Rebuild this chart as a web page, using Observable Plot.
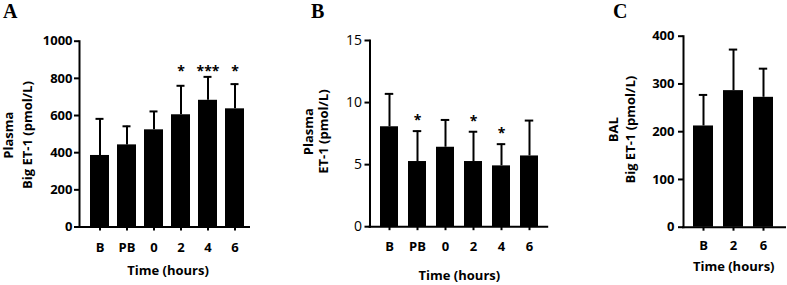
<!DOCTYPE html>
<html><head><meta charset="utf-8">
<script src="https://cdn.jsdelivr.net/npm/d3@7"></script>
<script src="https://cdn.jsdelivr.net/npm/@observablehq/plot@0.6"></script>
<style>
body{margin:0;background:#fff;}
#wrap{position:relative;width:787px;height:285px;overflow:hidden;font-family:"Open Sans",sans-serif;background:#fff;}
#wrap > svg{position:absolute;top:0;}
.letter{position:absolute;top:1px;font-family:"Liberation Serif",serif;font-weight:bold;font-size:20px;line-height:20px;color:#000;}
</style></head><body><div id="wrap"></div>
<script>
// Panel A: Plasma Big ET-1 (pmol/L)
const catsA = ["B","PB","0","2","4","6"];
const meanA = [385,442,523,604,682,636];
const upperA = [582,542,622,760,808,769];
const starsA = ["","","","*","***","*"];
const ticksA = [0,200,400,600,800,1000];
// Panel B: Plasma ET-1 (pmol/L)
const catsB = ["B","PB","0","2","4","6"];
const meanB = [8.05,5.25,6.4,5.25,4.9,5.7];
const upperB = [10.7,7.7,8.6,7.65,6.65,8.55];
const starsB = ["","*","","*","*",""];
const ticksB = [0,5,10,15];
// Panel C: BAL Big ET-1 (pmol/L)
const catsC = ["B","2","6"];
const meanC = [212,286,272];
const upperC = [277,372,332];
const starsC = ["","",""];
const ticksC = [0,100,200,300,400];

const xTitle = "Time (hours)";
const letters = ["A","B","C"];

const wrap = document.getElementById("wrap");

function panel(o) {
  const data = o.cats.map((c,i)=>({c, m:o.mean[i], u:o.upper[i], s:o.stars[i]}));
  const starred = data.filter(d=>d.s);
  const starTop = d3.max(starred, d=>d.u);
  const starData = starred.map(d=>({...d, ys: o.alignStars ? starTop : d.u}));
  const p = Plot.plot({
    width:o.width, height:285,
    marginLeft:o.mL, marginRight:o.mR, marginTop:o.mT, marginBottom:o.mB,
    style:{fontFamily:'"Open Sans",sans-serif', fontSize:"13px", color:"#000", background:"transparent", overflow:"visible"},
    x:{domain:o.cats, paddingInner:o.pi, paddingOuter:o.po, align:0.5, axis:null},
    y:{domain:[0,o.ymax], axis:null},
    marks:[
      Plot.barY(data,{x:"c", y:"m", fill:"#000"}),
      Plot.ruleX(data,{x:"c", y1:"m", y2:"u", stroke:"#000", strokeWidth:2}),
      Plot.tickY(data,{x:"c", y:"u", stroke:"#000", strokeWidth:2, inset:o.capInset}),
      Plot.text(starData,{x:"c", y:"ys", text:"s", dy:o.starDy, fontSize:14, fontWeight:"bold", lineAnchor:"middle", fill:"#000"}),
      // y axis: ticks + labels
      Plot.axisY({ticks:o.ticks, tickSize:5, strokeWidth:2, stroke:"#000", text:null, label:null}),
      Plot.text(o.ticks,{y:d=>d, text:d=>String(d), frameAnchor:"left", textAnchor:"end", dx:-(5+o.yPad), fontSize:o.yFont, fontWeight:o.yWeight, lineAnchor:"middle", fill:"#000"}),
      // x axis: ticks + labels
      Plot.axisX({tickSize:4, strokeWidth:2, stroke:"#000", text:null, label:null}),
      Plot.text(o.cats,{x:d=>d, text:d=>d, frameAnchor:"bottom", dy:o.xLabDy, fontSize:13, fontWeight:"bold", lineAnchor:"middle", fill:"#000"}),
      Plot.frame({anchor:"left", stroke:"#000", strokeWidth:2}),
      Plot.ruleY([0],{stroke:"#000", strokeWidth:2, insetLeft:-1, insetRight:o.ruleInsetRight}),
      Plot.text([o.ylab1],{text:d=>d, frameAnchor:"left", textAnchor:"middle", rotate:-90, dx:o.lab1Dx, dy:o.labDy, fontSize:13, fontWeight:"bold", lineAnchor:"middle", fill:"#000"}),
      Plot.text([o.ylab2],{text:d=>d, frameAnchor:"left", textAnchor:"middle", rotate:-90, dx:o.lab2Dx, dy:o.labDy, fontSize:13, fontWeight:"bold", lineAnchor:"middle", fill:"#000"}),
      Plot.text([xTitle],{text:d=>d, frameAnchor:"bottom", dy:o.titleDy, fontSize:13, fontWeight:"bold", lineAnchor:"middle", fill:"#000"})
    ]
  });
  p.style.left = o.left + "px";
  wrap.appendChild(p);
}

panel({left:0, width:262, mL:79, mR:6, mT:40.7, mB:58.5, pi:0.28, po:0.33,
  cats:catsA, mean:meanA, upper:upperA, stars:starsA, ticks:ticksA, ymax:1000,
  capInset:5.5, alignStars:true, starDy:-5, yPad:2, yFont:13, yWeight:"bold", xLabDy:20.5,
  ruleInsetRight:6, ylab1:"Plasma", ylab2:"Big ET-1 (pmol/L)", lab1Dx:-71, lab2Dx:-52, labDy:1, titleDy:43.5});

panel({left:270, width:280, mL:99.5, mR:1.8, mT:40, mB:58.8, pi:0.34, po:0.35,
  cats:catsB, mean:meanB, upper:upperB, stars:starsB, ticks:ticksB, ymax:15,
  capInset:4.75, alignStars:false, starDy:-10.4, yPad:3, yFont:14, yWeight:"normal", xLabDy:20.5,
  ruleInsetRight:0, ylab1:"Plasma", ylab2:"ET-1 (pmol/L)", lab1Dx:-61.5, lab2Dx:-46.5, labDy:-2, titleDy:48.8});

panel({left:600, width:187, mL:83, mR:3.6, mT:35.7, mB:58.3, pi:0.32, po:0.32,
  cats:catsC, mean:meanC, upper:upperC, stars:starsC, ticks:ticksC, ymax:400,
  capInset:5.8, alignStars:false, starDy:-10, yPad:4, yFont:13, yWeight:"bold", xLabDy:18.5,
  ruleInsetRight:-2.6, ylab1:"BAL", ylab2:"Big ET-1 (pmol/L)", lab1Dx:-70, lab2Dx:-53, labDy:-2, titleDy:40});

const lpos = [3, 311, 613];
letters.forEach((t,i)=>{
  const d = document.createElement("div");
  d.className = "letter";
  d.style.left = lpos[i] + "px";
  d.textContent = t;
  wrap.appendChild(d);
});
</script></body></html>
